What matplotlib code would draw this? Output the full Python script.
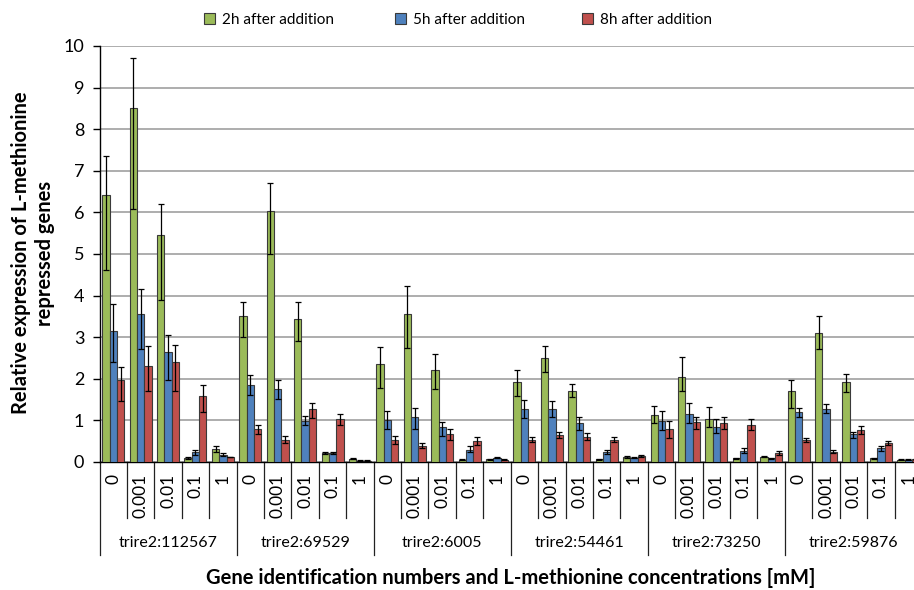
import matplotlib
matplotlib.use("Agg")
import matplotlib.pyplot as plt
import numpy as np

plt.rcParams['font.family'] = ['Lato', 'DejaVu Sans']

genes = ["trire2:112567", "trire2:69529", "trire2:6005", "trire2:54461", "trire2:73250", "trire2:59876"]
concs = ["0", "0.001", "0.01", "0.1", "1"]
series = ["2h after addition", "5h after addition", "8h after addition"]
colors = ["#9BBB59", "#4F81BD", "#C0504D"]

v2h = [6.42, 8.50, 5.46, 0.09, 0.31,
       3.50, 6.03, 3.43, 0.22, 0.08,
       2.35, 3.55, 2.20, 0.06, 0.07,
       1.92, 2.49, 1.70, 0.07, 0.12,
       1.13, 2.05, 1.03, 0.09, 0.13,
       1.71, 3.10, 1.93, 0.09, 0.06]
up2h = [0.93, 1.21, 0.74, 0.02, 0.07,
        0.35, 0.68, 0.42, 0.02, 0.01,
        0.41, 0.68, 0.40, 0.01, 0.01,
        0.30, 0.31, 0.17, 0.01, 0.02,
        0.22, 0.47, 0.30, 0.01, 0.02,
        0.26, 0.40, 0.19, 0.01, 0.01]
lo2h = [1.81, 2.43, 1.57, 0.02, 0.06,
        0.50, 1.04, 0.53, 0.02, 0.01,
        0.58, 0.82, 0.45, 0.01, 0.01,
        0.33, 0.32, 0.13, 0.01, 0.02,
        0.20, 0.34, 0.18, 0.01, 0.02,
        0.42, 0.39, 0.24, 0.01, 0.01]

v5h = [3.16, 3.56, 2.65, 0.23, 0.18,
       1.84, 1.75, 0.98, 0.22, 0.03,
       1.00, 1.09, 0.83, 0.30, 0.10,
       1.28, 1.27, 0.93, 0.25, 0.10,
       0.98, 1.15, 0.85, 0.26, 0.09,
       1.21, 1.28, 0.68, 0.33, 0.06]
up5h = [0.64, 0.61, 0.41, 0.06, 0.03,
        0.25, 0.21, 0.13, 0.02, 0.01,
        0.22, 0.20, 0.12, 0.08, 0.01,
        0.22, 0.19, 0.16, 0.05, 0.01,
        0.24, 0.28, 0.18, 0.07, 0.01,
        0.10, 0.11, 0.05, 0.05, 0.01]
lo5h = [0.76, 0.84, 0.69, 0.05, 0.03,
        0.24, 0.23, 0.10, 0.02, 0.01,
        0.20, 0.29, 0.20, 0.06, 0.01,
        0.23, 0.18, 0.16, 0.05, 0.01,
        0.21, 0.22, 0.16, 0.05, 0.01,
        0.12, 0.11, 0.11, 0.06, 0.01]

v8h = [1.96, 2.31, 2.41, 1.59, 0.12,
       0.79, 0.53, 1.27, 1.04, 0.03,
       0.52, 0.38, 0.67, 0.50, 0.06,
       0.54, 0.64, 0.61, 0.54, 0.14,
       0.80, 0.95, 0.94, 0.90, 0.21,
       0.52, 0.25, 0.77, 0.46, 0.07]
up8h = [0.32, 0.47, 0.40, 0.27, 0.01,
        0.10, 0.09, 0.15, 0.11, 0.01,
        0.11, 0.07, 0.12, 0.10, 0.01,
        0.07, 0.07, 0.08, 0.07, 0.02,
        0.19, 0.14, 0.15, 0.14, 0.05,
        0.05, 0.03, 0.10, 0.04, 0.01]
lo8h = [0.49, 0.60, 0.70, 0.39, 0.01,
        0.12, 0.07, 0.22, 0.16, 0.01,
        0.09, 0.05, 0.14, 0.08, 0.01,
        0.06, 0.07, 0.08, 0.06, 0.02,
        0.23, 0.15, 0.14, 0.13, 0.04,
        0.05, 0.03, 0.10, 0.05, 0.01]

values = [v2h, v5h, v8h]
ups = [up2h, up5h, up8h]
los = [lo2h, lo5h, lo8h]

W, H = 914, 590
fig = plt.figure(figsize=(W / 100, H / 100), dpi=100)
left_px, right_px, bot_px, top_px = 99.5, 922.0, 462.0, 46.0
ax = fig.add_axes([left_px / W, 1 - bot_px / H, (right_px - left_px) / W, (bot_px - top_px) / H])

n = len(genes) * len(concs)
x = np.arange(n)
bw = 0.268
handles = []
for i in range(3):
    b = ax.bar(x + (i - 1) * bw, values[i], width=bw, color=colors[i], edgecolor="#3a3a3a",
               linewidth=0.8, zorder=3, label=series[i])
    handles.append(b)
    ax.errorbar(x + (i - 1) * bw, values[i], yerr=[los[i], ups[i]], fmt="none",
                ecolor="black", elinewidth=0.9, capsize=2.3, capthick=0.9, zorder=4)

ax.set_xlim(-0.5, n - 0.5)
ax.set_ylim(0, 10)
ax.set_yticks(range(0, 11))
ax.yaxis.grid(True, color="#a0a0a0", linewidth=1.2, zorder=0)
ax.set_axisbelow(True)
for s in ["top", "right"]:
    ax.spines[s].set_visible(False)
ax.spines["left"].set_color("black")
ax.spines["bottom"].set_color("black")
ax.spines["left"].set_linewidth(1.0)
ax.spines["bottom"].set_linewidth(1.0)
ax.tick_params(axis="y", direction="out", length=5, width=1, labelsize=13, pad=6)
ax.set_xticks([])

tr = ax.get_xaxis_transform()
ax_h = bot_px - top_px
short_y = -(518 - bot_px) / ax_h
long_y = -(555 - bot_px) / ax_h
for k in range(n + 1):
    y_end = long_y if k % len(concs) == 0 else short_y
    ax.plot([k - 0.5, k - 0.5], [0, y_end], transform=tr, color="#222222",
            linewidth=0.9, clip_on=False)

lab_y = -(474 - bot_px) / ax_h
for k in range(n):
    ax.text(k, lab_y, concs[k % len(concs)], transform=tr, rotation=90,
            ha="center", va="top", fontsize=12.5)
grp_y = -(543 - bot_px) / ax_h
for g, name in enumerate(genes):
    ax.text(g * len(concs) + (len(concs) - 1) / 2, grp_y, name, transform=tr,
            ha="center", va="center", fontsize=11.5)

fig.text(511 / W, 1 - 578 / H, "Gene identification numbers and L-methionine concentrations [mM]",
         ha="center", va="center", fontsize=14.5, fontweight="bold")
fig.text(33 / W, 1 - 253 / H, "Relative expression of L-methionine\nrepressed genes",
         ha="center", va="center", rotation=90, fontsize=14.5, fontweight="bold",
         multialignment="center", linespacing=1.25)

marker_x = [204, 395, 582]
for i in range(3):
    lg = fig.legend([handles[i]], [series[i]], loc="center left",
                    bbox_to_anchor=(marker_x[i] / W, 1 - 20 / H), frameon=False,
                    fontsize=11, handlelength=0.7, handleheight=0.7,
                    handletextpad=0.45, borderaxespad=0, borderpad=0)

fig.savefig("out.png", dpi=100)
